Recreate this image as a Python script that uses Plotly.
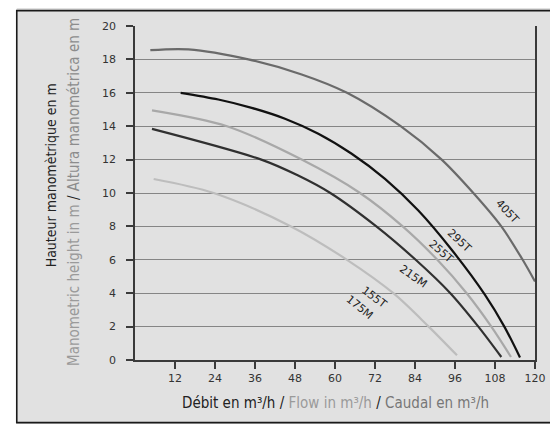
import plotly.graph_objects as go

# ---- data (flow Q in m3/h, head H in m) ----
q_405T = [4.6, 16, 34, 50, 63.6, 79.7, 92, 101.5, 109.9, 116.3, 120]
h_405T = [18.55, 18.6, 18.0, 17.1, 16.0, 14.0, 12.0, 10.0, 8.0, 6.0, 4.7]

q_295T = [13.7, 25, 35, 45, 55, 65, 75, 85, 95, 105, 110.8, 115.5]
h_295T = [16.0, 15.6, 15.1, 14.45, 13.55, 12.35, 10.85, 8.95, 6.6, 3.9, 2.0, 0.15]

q_255T = [5.1, 27.6, 50, 67.5, 80.3, 90.7, 99.5, 106.9, 112.8]
h_255T = [14.95, 14.0, 12.0, 10.0, 8.0, 6.0, 4.0, 2.0, 0.18]

q_215M = [5.1, 37.9, 48.8, 58.6, 72.4, 84.2, 94.6, 103, 109.9]
h_215M = [13.84, 12.0, 11.06, 10.0, 8.0, 6.0, 4.0, 2.0, 0.18]

q_175M = [5.6, 23.6, 46.8, 63.6, 77.5, 88.1, 96.6]
h_175M = [10.84, 10.0, 8.0, 6.0, 4.0, 2.0, 0.28]

curve_names = ["405T", "295T", "255T", "215M", "175M"]
x_ticks = [12, 24, 36, 48, 60, 72, 84, 96, 108, 120]
y_ticks = [0, 2, 4, 6, 8, 10, 12, 14, 16, 18, 20]

label_texts = ["405T", "295T", "255T", "215M", "155T", "175M"]
label_q = [111.6, 97.2, 91.8, 83.5, 71.8, 67.4]
label_h = [8.87, 7.13, 6.49, 4.99, 3.73, 3.12]
label_angle = [47, 43, 41, 35, 37, 39]

# ---- styles ----
curve_colors = {"405T": "#6a6a6a", "295T": "#111111", "255T": "#a8a8a8",
                "215M": "#303030", "175M": "#bdbdbd"}
series = {"405T": (q_405T, h_405T), "295T": (q_295T, h_295T),
          "255T": (q_255T, h_255T), "215M": (q_215M, h_215M),
          "175M": (q_175M, h_175M)}

BG = "#e1e1e1"
TITLE_FONT = "DejaVu Sans Condensed, Roboto Condensed, Liberation Sans Narrow, Roboto, sans-serif"
TICK_FONT = "DejaVu Sans, Verdana, sans-serif"

fig = go.Figure()
for name in curve_names:
    qx, hy = series[name]
    fig.add_trace(go.Scatter(x=qx, y=hy, mode="lines", name=name,
                             line=dict(color=curve_colors[name], width=2.2,
                                       shape="spline", smoothing=0.9),
                             hoverinfo="skip", showlegend=False))

for t, qx, hy, a in zip(label_texts, label_q, label_h, label_angle):
    fig.add_annotation(x=qx, y=hy, xref="x", yref="y", text=t, textangle=a,
                       showarrow=False, xanchor="center", yanchor="middle",
                       font=dict(family=TICK_FONT, size=11, color="#222222"))

# white margin left of the frame, then the frame around the whole chart
fig.add_shape(type="rect", xref="paper", yref="paper",
              x0=-0.33, x1=-0.2956, y0=-0.25, y1=1.1,
              line=dict(width=0), fillcolor="white", layer="below")
fig.add_shape(type="rect", xref="paper", yref="paper",
              x0=-0.2956, x1=1.06, y0=-0.1875, y1=1.046,
              line=dict(color="#1a1a1a", width=1.6), fillcolor="rgba(0,0,0,0)",
              layer="above")

dark = "#222222"
fig.add_annotation(xref="paper", yref="paper", x=-0.2094, y=0.5536,
                   xanchor="center", yanchor="middle",
                   text="Hauteur manomètrique en m", textangle=-90, showarrow=False,
                   font=dict(family=TITLE_FONT, size=14, color=dark))
fig.add_annotation(xref="paper", yref="paper", x=-0.1527, y=0.503,
                   xanchor="center", yanchor="middle",
                   text=("<span style='color:#9a9a9a'>Manometric height in m</span>"
                         " <span style='color:#222'>/</span> "
                         "<span style='color:#8c8c8c'>Altura manométrica en m</span>"),
                   textangle=-90, showarrow=False,
                   font=dict(family=TITLE_FONT, size=15, color=dark))
fig.add_annotation(xref="paper", yref="paper", x=0.5, y=-0.128,
                   xanchor="center", yanchor="middle",
                   text=("<span style='color:#222'>Débit en m³/h</span>"
                         " <span style='color:#222'>/</span> "
                         "<span style='color:#9a9a9a'>Flow in m³/h</span>"
                         " <span style='color:#222'>/</span> "
                         "<span style='color:#777777'>Caudal en m³/h</span>"),
                   showarrow=False,
                   font=dict(family=TITLE_FONT, size=15, color=dark))

fig.update_xaxes(range=[0, 120], tickvals=x_ticks, ticktext=[str(v) for v in x_ticks],
                 showgrid=False, zeroline=False, showline=True, linecolor="#3a3a3a",
                 linewidth=1.6, ticks="outside", ticklen=7, tickwidth=1.5,
                 tickcolor="#3a3a3a",
                 tickfont=dict(family=TICK_FONT, size=11, color="#333333"))
fig.update_yaxes(range=[0, 20], tickvals=y_ticks, ticktext=[str(v) for v in y_ticks],
                 showgrid=True, gridcolor="#858585", gridwidth=1.3, zeroline=False,
                 showline=True, mirror=True, linecolor="#3a3a3a", linewidth=1.6,
                 ticks="outside", ticklen=7, tickwidth=1.5, tickcolor="#3a3a3a",
                 ticklabelstandoff=8,
                 tickfont=dict(family=TICK_FONT, size=11, color="#333333"))

# page body adds an 8px offset; size figure so the plot area lands where the reference has it
fig.update_layout(width=550, height=416,
                  margin=dict(l=127, r=17, t=16, b=64),
                  paper_bgcolor=BG, plot_bgcolor=BG,
                  showlegend=False)

fig.write_html("out.html")
